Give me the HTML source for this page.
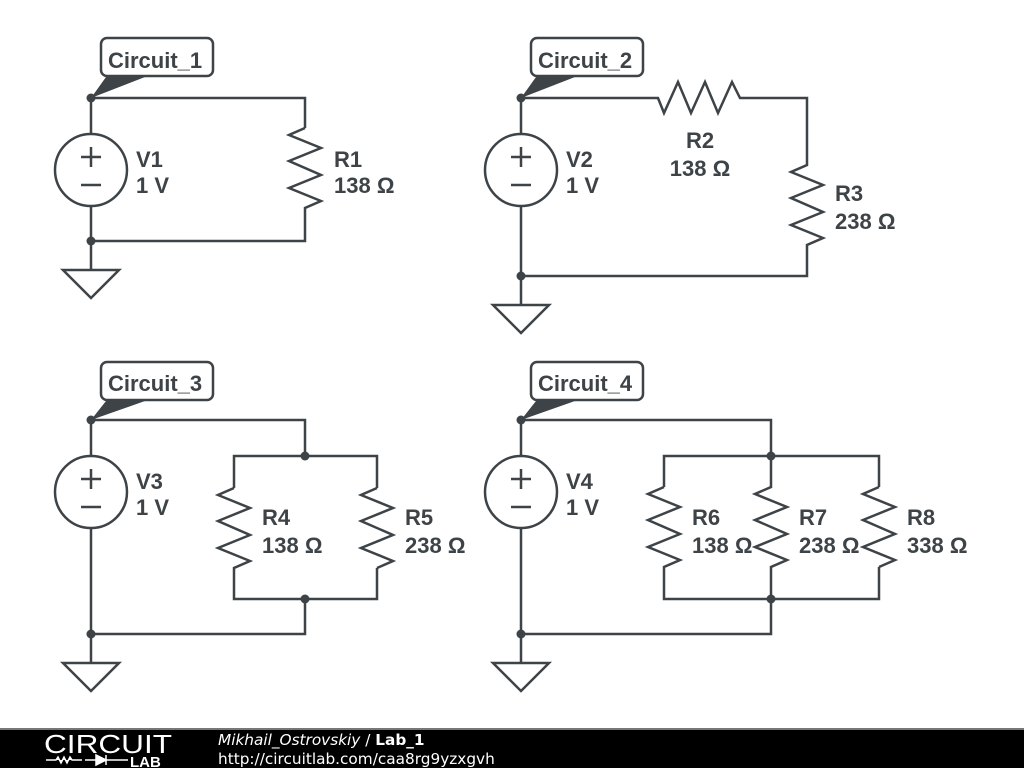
<!DOCTYPE html>
<html><head><meta charset="utf-8"><style>
html,body{margin:0;padding:0;background:#fff;width:1024px;height:768px;overflow:hidden}
svg{display:block}
text{font-family:"Liberation Sans",sans-serif}
text.dj{font-family:"DejaVu Sans",sans-serif}
</style></head><body>
<svg width="1024" height="768" viewBox="0 0 1024 768" xmlns="http://www.w3.org/2000/svg">
<g fill="none" stroke="#3d4347" stroke-width="2.5" stroke-linejoin="miter">
<polyline points="91,134 91,98 305,98 305,128"/>
<polyline points="305,128 289,135 321,148 289,161 321,175 289,188 321,201 305,208 305,241 91,241 91,206"/>
<circle cx="91" cy="170" r="36"/>
<polyline points="91,241 91,270"/>
<polygon points="63,270 119,270 91,298"/>
<polyline points="521,134 521,98 658,98 664,113 678,82 691,113 705,82 718,113 732,82 740,98 807,98 807,165 791,172 823,185 791,198 823,212 791,225 823,238 807,245 807,276 521,276 521,206"/>
<circle cx="521" cy="170" r="36"/>
<polyline points="521,276 521,305"/>
<polygon points="493,305 549,305 521,333"/>
<polyline points="91,456 91,420 305,420 305,456"/>
<polyline points="234,488 234,456 377,456 377,488"/>
<polyline points="234,488 218,495 250,508 218,521 250,535 218,548 250,561 234,568 234,599 377,599 377,568"/>
<polyline points="377,488 361,495 393,508 361,521 393,535 361,548 393,561 377,568"/>
<polyline points="305,599 305,634 91,634 91,528"/>
<circle cx="91" cy="492" r="36"/>
<polyline points="91,634 91,663"/>
<polygon points="63,663 119,663 91,691"/>
<polyline points="521,456 521,420 771,420 771,456"/>
<polyline points="664,487 664,456 879,456 879,487"/>
<polyline points="664,487 648,494 680,507 648,520 680,534 648,547 680,560 664,567 664,599 879,599 879,567"/>
<polyline points="771,456 771,487 755,494 787,507 755,520 787,534 755,547 787,560 771,567 771,599"/>
<polyline points="879,487 863,494 895,507 863,520 895,534 863,547 895,560 879,567"/>
<polyline points="771,599 771,634 521,634 521,528"/>
<circle cx="521" cy="492" r="36"/>
<polyline points="521,634 521,663"/>
<polygon points="493,663 549,663 521,691"/>
<path d="M81,157h20M91,147v20M81,185h20 M511,157h20M521,147v20M511,185h20 M81,479h20M91,469v20M81,507h20 M511,479h20M521,469v20M511,507h20"/>
<rect x="101" y="38" width="112" height="38" rx="6" ry="6"/>
<rect x="531" y="38" width="112" height="38" rx="6" ry="6"/>
<rect x="101" y="362" width="112" height="38" rx="6" ry="6"/>
<rect x="531" y="362" width="112" height="38" rx="6" ry="6"/>
</g>
<g fill="#3d4347">
<polygon points="91,98 106,77 145,77"/>
<polygon points="521,98 536,77 575,77"/>
<polygon points="91,420 106,401 145,401"/>
<polygon points="521,420 536,401 575,401"/>
<circle cx="91" cy="98" r="4.5"/><circle cx="91" cy="241" r="4.5"/>
<circle cx="521" cy="98" r="4.5"/><circle cx="521" cy="276" r="4.5"/>
<circle cx="91" cy="420" r="4.5"/><circle cx="305" cy="456" r="4.5"/><circle cx="305" cy="599" r="4.5"/><circle cx="91" cy="634" r="4.5"/>
<circle cx="521" cy="420" r="4.5"/><circle cx="771" cy="456" r="4.5"/><circle cx="771" cy="599" r="4.5"/><circle cx="521" cy="634" r="4.5"/>
</g>
<g fill="#3d4347" font-size="22" font-weight="bold">
<text x="108" y="68">Circuit_1</text>
<text x="538" y="68">Circuit_2</text>
<text x="108" y="391">Circuit_3</text>
<text x="538" y="391">Circuit_4</text>
<text x="136" y="167">V1</text><text x="136" y="193">1 V</text>
<text x="334" y="167">R1</text><text x="334" y="193">138 Ω</text>
<text x="566" y="167">V2</text><text x="566" y="193">1 V</text>
<text x="700" y="148" text-anchor="middle">R2</text><text x="700" y="176" text-anchor="middle">138 Ω</text>
<text x="835" y="201">R3</text><text x="835" y="229">238 Ω</text>
<text x="136" y="489">V3</text><text x="136" y="515">1 V</text>
<text x="262" y="525">R4</text><text x="262" y="553">138 Ω</text>
<text x="405" y="525">R5</text><text x="405" y="553">238 Ω</text>
<text x="566" y="489">V4</text><text x="566" y="515">1 V</text>
<text x="692" y="525">R6</text><text x="692" y="553">138 Ω</text>
<text x="799" y="525">R7</text><text x="799" y="553">238 Ω</text>
<text x="907" y="525">R8</text><text x="907" y="553">338 Ω</text>
</g>
<rect x="0" y="728" width="1024" height="40" fill="#000"/>
<rect x="0" y="728" width="1024" height="2" fill="#777"/>
<text x="44" y="753" fill="#fff" font-size="26" textLength="128" lengthAdjust="spacingAndGlyphs">CIRCUIT</text>
<path d="M46,760h10l2,-3 3,6 3,-6 3,6 3,-6 2,3h10 M85,760h28 M96,755v10l10,-5z M106,755v10 M106,760h22" stroke="#fff" stroke-width="1.5" fill="#fff"/>
<text x="130" y="767" fill="#fff" font-size="15" font-weight="bold">LAB</text>
<text class="dj" x="218" y="745" fill="#fff" font-size="15.3"><tspan font-style="italic">Mikhail_Ostrovskiy</tspan> / <tspan font-weight="bold">Lab_1</tspan></text>
<text class="dj" x="218" y="764" fill="#fff" font-size="15.3">http://circuitlab.com/caa8rg9yzxgvh</text>
</svg>
</body></html>
